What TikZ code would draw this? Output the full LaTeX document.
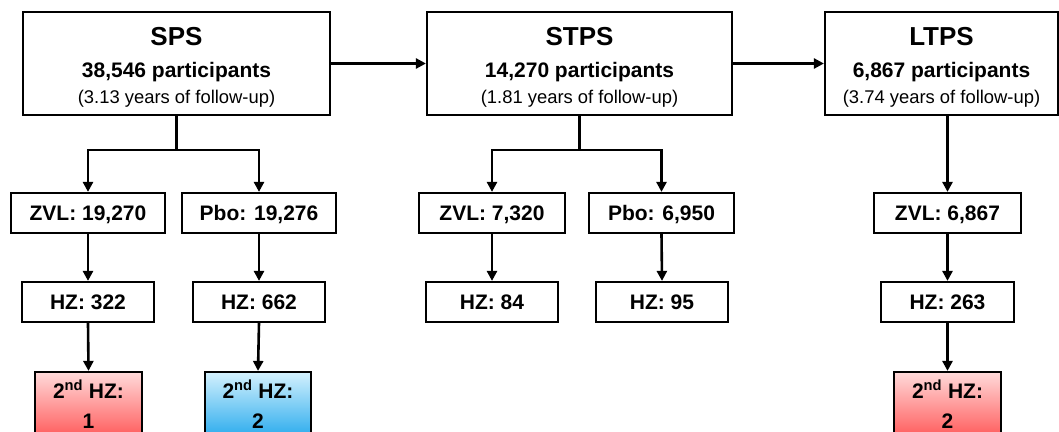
\documentclass[tikz,border=0pt]{standalone}
\usepackage{fontspec}
\setmainfont{Liberation Sans}
\usetikzlibrary{arrows.meta}
\definecolor{redtop}{HTML}{FFDADA}
\definecolor{redbot}{HTML}{FF5252}
\definecolor{bluetop}{HTML}{D4F1FD}
\definecolor{bluebot}{HTML}{1EA6EC}
\begin{document}
\begin{tikzpicture}[x=1pt,y=-1pt,
  box/.style={draw=black, line width=2.2pt, fill=white, inner sep=0pt},
  sbox/.style={box, minimum height=40pt, font=\fontsize{21}{25}\selectfont\bfseries, text height=15pt, text depth=0pt},
  arr/.style={line width=2.6pt, -{Triangle[length=10pt,width=10pt]}},
  ln/.style={line width=2.6pt},
  ttl/.style={font=\fontsize{26}{30}\selectfont\bfseries, anchor=base, inner sep=0pt},
  part/.style={font=\fontsize{21}{25}\selectfont\bfseries, anchor=base, inner sep=0pt},
  fu/.style={font=\fontsize{18.4}{22}\selectfont, anchor=base, inner sep=0pt},
  hz2/.style={font=\fontsize{21}{25}\selectfont\bfseries, anchor=base, inner sep=0pt},
  redbox/.style={box, minimum height=70pt, minimum width=107pt, top color=redtop, bottom color=redbot},
  bluebox/.style={box, minimum height=70pt, minimum width=106pt, top color=bluetop, bottom color=bluebot}
]
\useasboundingbox (0,0) rectangle (1059,431);

% top boxes
\node[box, minimum width=307pt, minimum height=103pt] (sps) at (176.5,63.5) {};
\node[ttl] (spsT) at (176.5,45) {SPS};
\node[part] (spsP) at (176.5,77) {38,546 participants};
\node[fu] (spsF) at (176.5,103) {(3.13 years of follow-up)};

\node[box, minimum width=305pt, minimum height=103pt] (stps) at (579.5,63.5) {};
\node[ttl] (stpsT) at (579.5,45) {STPS};
\node[part] (stpsP) at (579.5,77) {14,270 participants};
\node[fu] (stpsF) at (579.5,103) {(1.81 years of follow-up)};

\node[box, minimum width=233pt, minimum height=103pt] (ltps) at (941.5,63.5) {};
\node[ttl] (ltpsT) at (941.5,45) {LTPS};
\node[part] (ltpsP) at (941.5,77) {6,867 participants};
\node[fu] (ltpsF) at (941.5,103) {(3.74 years of follow-up)};

\draw[arr] (sps.east) -- (stps.west);
\draw[arr] (stps.east) -- (ltps.west);

% second row
\node[sbox, minimum width=154pt] (zvl1) at (88,213) {ZVL: 19,270};
\node[sbox, minimum width=154pt] (pbo1) at (259,213) {Pbo: 19,276};
\node[sbox, minimum width=146pt] (zvl2) at (492,213) {ZVL: 7,320};
\node[sbox, minimum width=145pt] (pbo2) at (661.5,213) {Pbo: 6,950};
\node[sbox, minimum width=147pt] (zvl3) at (947.5,213) {ZVL: 6,867};

% third row
\node[sbox, minimum width=132pt] (hz1) at (88,302) {HZ: 322};
\node[sbox, minimum width=132pt] (hz2) at (259,302) {HZ: 662};
\node[sbox, minimum width=132pt] (hz3) at (492,302) {HZ: 84};
\node[sbox, minimum width=132pt] (hz4) at (662,302) {HZ: 95};
\node[sbox, minimum width=133pt] (hz5) at (947.5,302) {HZ: 263};

% fourth row
\node[redbox] (s1) at (88.5,407) {};
\node[hz2] (s1a) at (88.5,398) {2\textsuperscript{nd} HZ:};
\node[hz2] (s1b) at (88.5,428) {1};
\node[bluebox] (s2) at (258,407) {};
\node[hz2] (s2a) at (258,398) {2\textsuperscript{nd} HZ:};
\node[hz2] (s2b) at (258,428) {2};
\node[redbox] (s3) at (947.5,407) {};
\node[hz2] (s3a) at (947.5,398) {2\textsuperscript{nd} HZ:};
\node[hz2] (s3b) at (947.5,428) {2};

% branching
\coordinate (j1) at (176.5,150);
\coordinate (j2) at (579.5,150);
\draw[ln] (sps.south) -- (j1);
\draw[arr] (j1) -| (zvl1.north);
\draw[arr] (j1) -| (pbo1.north);
\draw[ln] (stps.south) -- (j2);
\draw[arr] (j2) -| (zvl2.north);
\draw[arr] (j2) -| (pbo2.north);
\draw[arr] (ltps.south -| zvl3.north) -- (zvl3.north);

\draw[arr] (zvl1.south) -- (hz1.north);
\draw[arr] (pbo1.south) -- (hz2.north);
\draw[arr] (zvl2.south) -- (hz3.north);
\draw[arr] (pbo2.south) -- (hz4.north);
\draw[arr] (zvl3.south) -- (hz5.north);

\draw[arr] (hz1.south) -- (s1.north);
\draw[arr] (hz2.south) -- (s2.north);
\draw[arr] (hz5.south) -- (s3.north);
\end{tikzpicture}
\end{document}
